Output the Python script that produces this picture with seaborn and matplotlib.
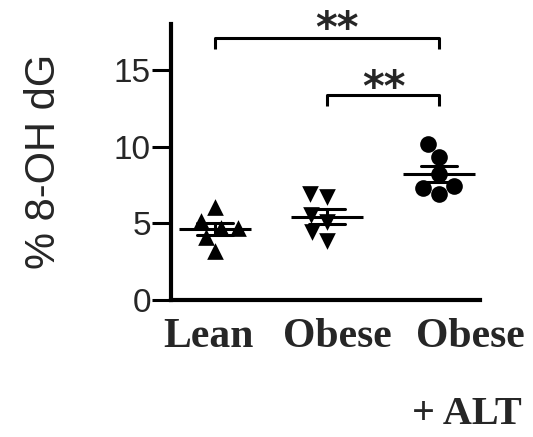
import matplotlib
matplotlib.use("Agg")
import matplotlib.pyplot as plt
import seaborn as sns
import pandas as pd

# ---- data ----
categories = ["Lean", "Obese", "Obese + ALT"]
lean = [6.08, 5.17, 4.67, 4.67, 4.13, 3.21]
obese = [6.69, 6.90, 5.54, 5.10, 4.45, 3.86]
obese_alt = [10.20, 9.34, 8.25, 7.43, 6.90, 7.28]
markers = ["^", "v", "o"]
tick_labels_x = ["Lean", "Obese", "Obese"]
yticks = [0, 5, 10, 15]
ylabel = "% 8-OH dG"
sig_pairs = [(0, 2), (1, 2)]
sig_text = ["**", "**"]

df = pd.DataFrame({
    "group": [categories[0]] * len(lean) + [categories[1]] * len(obese) + [categories[2]] * len(obese_alt),
    "value": lean + obese + obese_alt,
})

sns.set_style("ticks")
plt.rcParams["font.family"] = ["Liberation Sans", "DejaVu Sans"]

fig = plt.figure(figsize=(5.33, 4.37), dpi=100)
ax = fig.add_axes([171 / 533, 137 / 437, 309 / 533, 276 / 437])

for cat, m in zip(categories, markers):
    sns.swarmplot(data=df[df.group == cat], x="group", y="value", order=categories,
                  marker=m, color="black", size=12, ax=ax)

sns.pointplot(data=df, x="group", y="value", order=categories, errorbar="se",
              capsize=0.33, markers="_", linestyle="none", color="black",
              markersize=52, markeredgewidth=2.2, err_kws={"linewidth": 2.2}, ax=ax)

ax.set_ylim(0, 18)
ax.set_xlim(-0.393, 2.366)
ax.set_yticks(yticks)
ax.set_yticklabels([str(t) for t in yticks], fontsize=24, fontfamily="Liberation Sans")
ax.tick_params(axis="y", length=13.5, width=2.2, color="black", pad=1)

ax.set_xticks([-0.06, 1.09, 2.28])
ax.set_xticklabels(tick_labels_x, fontsize=30, fontfamily="Liberation Serif", fontweight="bold")
ax.tick_params(axis="x", length=0, pad=13)
ax.set_xlabel("")
ax.set_ylabel(ylabel, fontsize=30, fontfamily="Liberation Sans", va="center")
ax.yaxis.set_label_coords(-0.41, 0.502)

ax.text(1.76, -0.45, "+ ALT", transform=ax.get_xaxis_transform(), ha="left",
        va="baseline", fontsize=29, fontfamily="Liberation Serif", fontweight="bold",
        clip_on=False)

for s in ["top", "right"]:
    ax.spines[s].set_visible(False)
for s in ["left", "bottom"]:
    ax.spines[s].set_linewidth(3)
    ax.spines[s].set_color("black")

# significance brackets
bracket_y = [17.07, 13.36]
leg = 0.7
star_x = [1.09, 1.51]
star_y = [16.8, 13.0]
for (a, b), y, txt, sx, sy in zip(sig_pairs, bracket_y, sig_text, star_x, star_y):
    ax.plot([a, a, b, b], [y - leg, y, y, y - leg], color="black", lw=2.2,
            clip_on=False, solid_capstyle="butt")
    ax.text(sx, sy, txt, ha="center", va="baseline", fontsize=30, fontweight="bold",
            fontfamily="DejaVu Sans", clip_on=False)

fig.savefig("out.png", dpi=100)
